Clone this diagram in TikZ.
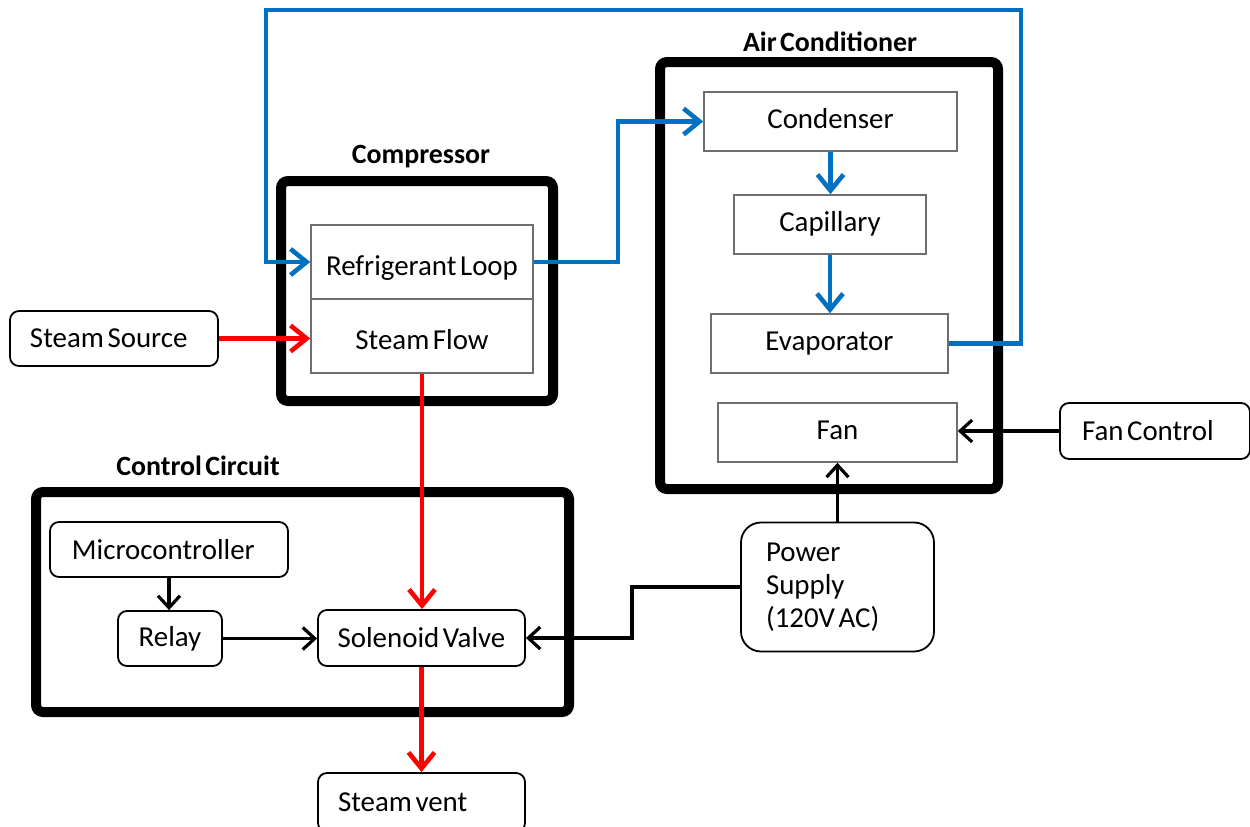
\documentclass[tikz,border=0pt]{standalone}
\usepackage{fontspec}
\setmainfont{Carlito}[WordSpace=0.55]
\usetikzlibrary{arrows.meta}
\definecolor{flowblue}{RGB}{0,112,192}
\definecolor{steamred}{RGB}{255,0,0}
\definecolor{unitgray}{RGB}{110,110,110}
% narrow interword space inside left-aligned blocks
\newcommand{\tightsp}{\spaceskip=0.125em plus 0.04em\relax}

\tikzset{
  frame/.style={draw=black, line width=10bp, rounded corners=7bp},
  frametitle/.style={font=\fontsize{28}{32}\selectfont\bfseries, inner sep=0pt},
  unit/.style={draw=unitgray, line width=1.6bp, fill=white, inner sep=0pt,
    font=\fontsize{29}{34}\selectfont},
  lowunit/.style={unit, text height=27bp, text depth=0bp},
  highunit/.style={unit, text height=19bp, text depth=6bp},
  rbox/.style={draw=black, line width=1.8bp, rounded corners=9bp, fill=white,
    inner ysep=0pt, font=\fontsize{29}{33}\selectfont},
  padbox/.style 2 args={rbox, inner xsep=#2, text width=#1-2*#2, align=left},
  bluearrow/.style={draw=flowblue, line width=4.6bp,
    -{Straight Barb[length=16bp, width=26bp]}},
  redarrow/.style={draw=steamred, line width=4.6bp,
    -{Straight Barb[length=16bp, width=26bp]}},
  blackarrow/.style={draw=black, line width=3.2bp,
    -{Straight Barb[length=12bp, width=22bp]}}
}

\begin{document}
\begin{tikzpicture}[x=1bp, y=-1bp]
\useasboundingbox (0,0) rectangle (1250,827);

% group frames
\draw[frame] (281,181) rectangle (553,401);
\draw[frame] (660,62) rectangle (998,489);
\draw[frame] (36,492) rectangle (569,712);
\node[frametitle] (tcomp) at (421,157) {Compressor};
\node[frametitle] (tac) at (830,42) {Air Conditioner};
\node[frametitle] (tctl) at (198,466) {Control Circuit};

% compressor units
\node[lowunit, minimum width=222bp, minimum height=74bp] (ref) at (422,262) {Refrigerant Loop};
\node[lowunit, minimum width=222bp, minimum height=74bp] (sf) at (422,336) {Steam Flow};

% air conditioner units
\node[highunit, minimum width=253bp, minimum height=59bp] (cond) at (830.5,121.5) {Condenser};
\node[highunit, minimum width=192bp, minimum height=59bp] (cap) at (830,224.5) {Capillary};
\node[highunit, minimum width=237bp, minimum height=59bp] (evap) at (829.5,343.5) {Evaporator};
\node[highunit, minimum width=239bp, minimum height=59bp] (fan) at (837.5,432.5) {Fan};

% rounded blocks
\node[padbox={208bp}{20bp}, minimum height=55bp] (src) at (114,338.5) {\tightsp Steam Source};
\node[padbox={238bp}{22bp}, minimum height=55bp] (micro) at (169,549.5) {Microcontroller};
\node[rbox, minimum width=104bp, minimum height=55bp] (relay) at (170,638.5) {Relay};
\node[rbox, minimum width=207bp, minimum height=56bp] (sol) at (421.5,638) {Solenoid Valve};
\node[padbox={207bp}{20bp}, minimum height=59bp] (vent) at (421.5,802.5) {\tightsp Steam vent};
\node[padbox={193bp}{25bp}, minimum height=129bp, rounded corners=20bp] (power) at (837.5,587) {\tightsp Power\\Supply\\(120V AC)};
\node[padbox={190bp}{22bp}, minimum height=56bp] (fc) at (1155,431) {\tightsp Fan Control};

% refrigerant circuit
\coordinate (loopR) at (1021,10);
\coordinate (loopL) at (266,10);
\draw[bluearrow] (ref.east) -| (618,200) |- (cond.west);
\draw[bluearrow] (cond.south) -- (cap.north -| cond.south);
\draw[bluearrow] (cap.south) -- (evap.north -| cap.south);
\draw[bluearrow] (evap.east) -| (loopR) -- (loopL) |- (ref.west);

% steam path
\draw[redarrow] (src.east) -- (src.east -| sf.west);
\draw[redarrow] (sf.south) -- (sol.north -| sf.south);
\draw[redarrow] (sol.south) -- (vent.north -| sol.south);

% control and power
\draw[blackarrow] (micro.south) -- (relay.north -| micro.south);
\draw[blackarrow] (relay.east) -- (relay.east -| sol.west);
\draw[blackarrow] (power.west) -| (632,610) |- (sol.east);
\draw[blackarrow] (power.north) -- (fan.south);
\draw[blackarrow] (fc.west) -- (fc.west -| fan.east);
\end{tikzpicture}
\end{document}
